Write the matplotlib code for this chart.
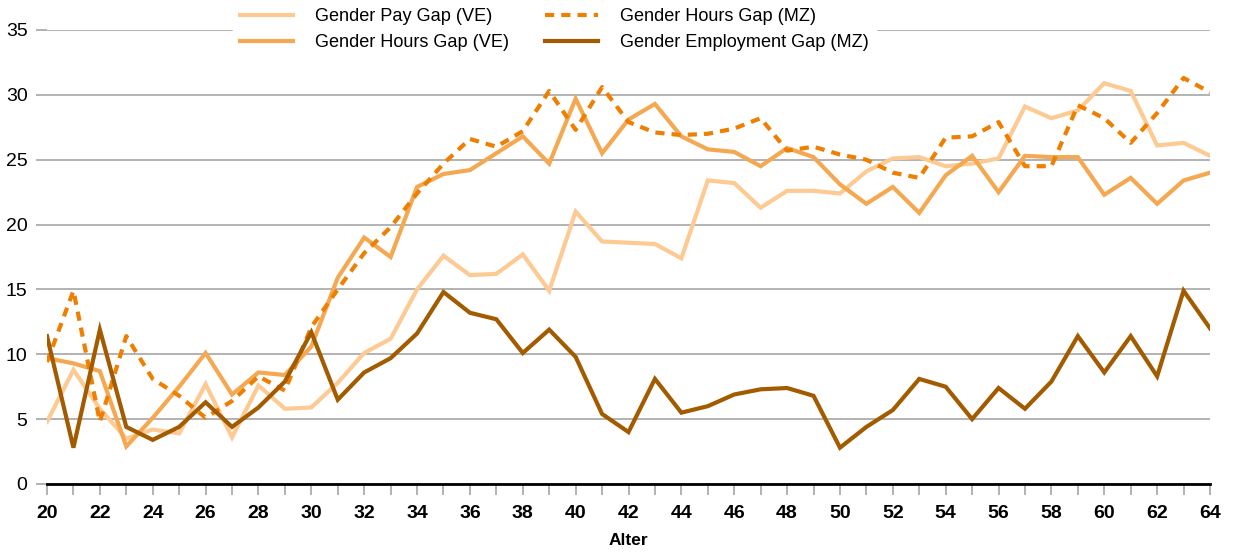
import matplotlib
matplotlib.use("Agg")
import matplotlib.pyplot as plt

plt.rcParams['font.family'] = ['Liberation Sans', 'DejaVu Sans']

ages = list(range(20, 65))

pay_gap_ve = [4.8, 8.8, 5.8, 3.5, 4.2, 3.9, 7.7, 3.6, 7.6, 5.8,
              5.9, 7.8, 10.1, 11.2, 15.0, 17.6, 16.1, 16.2, 17.7, 14.9,
              21.0, 18.7, 18.6, 18.5, 17.4, 23.4, 23.2, 21.3, 22.6, 22.6,
              22.4, 24.1, 25.1, 25.2, 24.5, 24.7, 25.1, 29.1, 28.2, 28.8,
              30.9, 30.3, 26.1, 26.3, 25.3]

hours_gap_ve = [9.7, 9.3, 8.7, 2.9, 5.1, 7.5, 10.1, 6.9, 8.6, 8.4,
                10.6, 15.9, 19.0, 17.5, 22.9, 23.9, 24.2, 25.5, 26.8, 24.7,
                29.7, 25.5, 28.1, 29.3, 26.8, 25.8, 25.6, 24.5, 25.9, 25.2,
                23.1, 21.6, 22.9, 20.9, 23.8, 25.3, 22.5, 25.3, 25.2, 25.2,
                22.3, 23.6, 21.6, 23.4, 24.0]

hours_gap_mz = [9.4, 14.9, 4.8, 11.4, 8.1, 6.8, 5.1, 6.4, 8.3, 7.2,
                12.1, 15.0, 17.8, 19.8, 22.4, 24.7, 26.6, 26.0, 27.2, 30.3,
                27.3, 30.6, 27.9, 27.1, 26.9, 27.0, 27.4, 28.2, 25.7, 26.0,
                25.4, 25.0, 24.0, 23.6, 26.7, 26.8, 27.9, 24.5, 24.5, 29.2,
                28.2, 26.3, 28.6, 31.3, 30.2]

employment_gap_mz = [11.4, 2.8, 11.9, 4.4, 3.4, 4.4, 6.3, 4.4, 5.9, 7.9,
                     11.7, 6.5, 8.6, 9.7, 11.6, 14.8, 13.2, 12.7, 10.1, 11.9,
                     9.8, 5.4, 4.0, 8.1, 5.5, 6.0, 6.9, 7.3, 7.4, 6.8,
                     2.8, 4.4, 5.7, 8.1, 7.5, 5.0, 7.4, 5.8, 7.9, 11.4,
                     8.6, 11.4, 8.3, 14.9, 12.0]

labels = ["Gender Pay Gap (VE)", "Gender Hours Gap (VE)",
          "Gender Hours Gap (MZ)", "Gender Employment Gap (MZ)"]

fig = plt.figure(figsize=(12.33, 5.53), dpi=100)
ax = fig.add_axes([47/1233, 69/553, (1210-47)/1233, 454/553])

grid_c = '#a6a6a6'
lw = 3.0
l1, = ax.plot(ages, pay_gap_ve, color='#fdca93', lw=lw, solid_joinstyle='miter', zorder=3)
l2, = ax.plot(ages, hours_gap_ve, color='#f5a852', lw=lw, solid_joinstyle='miter', zorder=4)
l3, = ax.plot(ages, hours_gap_mz, color='#ee7f00', lw=lw, dashes=(2.2, 1.7), zorder=5)
l4, = ax.plot(ages, employment_gap_mz, color='#a35b00', lw=lw, solid_joinstyle='miter', zorder=6)

ax.set_xlim(20, 64)
ax.set_ylim(0, 35)
ax.set_yticks(range(0, 36, 5))
ax.set_xticks(ages, minor=False)
ax.set_xticklabels([str(a) if a % 2 == 0 else '' for a in ages],
                   fontsize=14, fontweight='bold')
ax.tick_params(axis='x', length=8, width=1.2, color=grid_c, pad=7)
ax.tick_params(axis='y', length=8, width=1.2, color=grid_c, labelsize=14, pad=6)
ax.grid(axis='y', color=grid_c, lw=1.2, zorder=0)
ax.set_axisbelow(True)
for s in ['top', 'right', 'left']:
    ax.spines[s].set_visible(False)
ax.spines['bottom'].set_color('black')
ax.spines['bottom'].set_linewidth(2)
ax.spines['bottom'].set_zorder(7)
ax.set_xlabel('Alter', fontsize=12.5, fontweight='bold', labelpad=8)

leg = fig.legend([l1, l2, l3, l4], labels, ncol=2, loc='upper left',
                 bbox_to_anchor=(232/1233, 1.0), frameon=True, fontsize=13.1,
                 handlelength=2.9, columnspacing=2.0, handletextpad=1.2,
                 borderaxespad=0.05, labelspacing=0.5)
leg.get_frame().set_facecolor('white')
leg.get_frame().set_edgecolor('white')
leg.get_frame().set_alpha(1)
leg.set_zorder(10)

fig.savefig('out.png', dpi=100)
